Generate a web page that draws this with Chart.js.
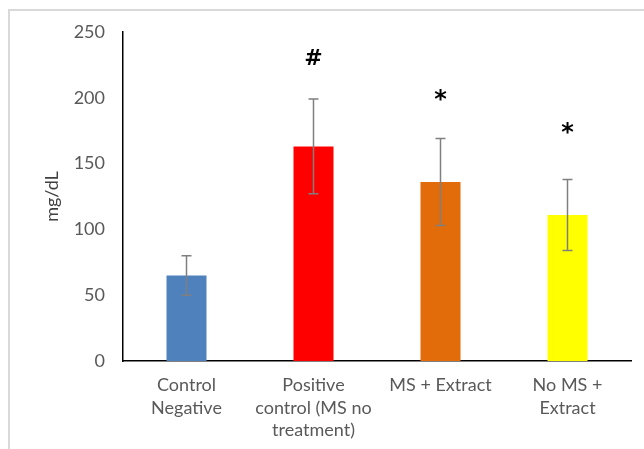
<!DOCTYPE html>
<html>
<head>
<meta charset="utf-8">
<script src="https://cdn.jsdelivr.net/npm/chart.js@4/dist/chart.umd.min.js"></script>
<style>
  html, body { margin: 0; padding: 0; background: #fff; }
  #wrap { position: relative; width: 644px; height: 449px; overflow: hidden; }
  #frame { position: absolute; left: 8px; top: 9px; width: 700px; height: 500px;
           border-left: 2px solid #d9d9d9; border-top: 2px solid #d9d9d9; box-sizing: border-box; }
  canvas { position: absolute; left: 0; top: 0; }
</style>
</head>
<body>
<div id="wrap">
  <div id="frame"></div>
  <canvas id="c" width="644" height="449"></canvas>
</div>
<script>
const categories = [
  ["Control", "Negative"],
  ["Positive", "control (MS no", "treatment)"],
  "MS + Extract",
  ["No MS +", "Extract"]
];
const values = [65, 163, 136, 111];
const errors = [15, 36, 33, 27];
const barColors = ["#4f81bd", "#ff0000", "#e36c0a", "#ffff00"];
const sigMarks = ["", "#", "*", "*"];
const sigLevels = [null, 229, 201, 176];
const yTicks = [0, 50, 100, 150, 200, 250];

const FONT = "Lato, 'Open Sans', sans-serif";

const errorBarPlugin = {
  id: 'errorBars',
  afterDatasetsDraw(chart) {
    const ctx = chart.ctx;
    const meta = chart.getDatasetMeta(0);
    const y = chart.scales.y;
    ctx.save();
    ctx.strokeStyle = '#7f7f7f';
    ctx.lineWidth = 1.5;
    meta.data.forEach((bar, i) => {
      const x = bar.x;
      const yHi = y.getPixelForValue(values[i] + errors[i]);
      const yLo = y.getPixelForValue(values[i] - errors[i]);
      const cap = 5;
      ctx.beginPath();
      ctx.moveTo(x, yHi); ctx.lineTo(x, yLo);
      ctx.moveTo(x - cap, yHi); ctx.lineTo(x + cap, yHi);
      ctx.moveTo(x - cap, yLo); ctx.lineTo(x + cap, yLo);
      ctx.stroke();
      if (sigMarks[i] && sigLevels[i] != null) {
        ctx.fillStyle = '#000';
        ctx.textAlign = 'center';
        ctx.textBaseline = 'middle';
        if (sigMarks[i] === '*') {
          ctx.font = "bold 24px 'DejaVu Sans', sans-serif";
          ctx.fillText(sigMarks[i], x, y.getPixelForValue(sigLevels[i]) + 4);
        } else {
          ctx.font = "bold 22px 'DejaVu Sans', sans-serif";
          ctx.fillText(sigMarks[i], x, y.getPixelForValue(sigLevels[i]));
        }
      }
    });
    ctx.restore();
  }
};

new Chart(document.getElementById('c'), {
  type: 'bar',
  data: {
    labels: categories,
    datasets: [{
      data: values,
      backgroundColor: barColors,
      borderWidth: 0,
      categoryPercentage: 1.0,
      barPercentage: 0.315
    }]
  },
  options: {
    responsive: false,
    animation: false,
    devicePixelRatio: 1,
    layout: { padding: { top: 32, right: 13, left: 0, bottom: 0 } },
    plugins: { legend: { display: false }, tooltip: { enabled: false } },
    scales: {
      x: {
        grid: { display: false, drawTicks: false },
        border: { display: true, color: '#000', width: 1.5 },
        ticks: { color: '#595959', font: { family: FONT, size: 18, lineHeight: 1.25 }, padding: 13, maxRotation: 0, autoSkip: false },
        afterFit(scale) { scale.height = 88; }
      },
      y: {
        min: 0, max: 250,
        grid: { display: false, drawTicks: false },
        border: { display: true, color: '#000', width: 1.5 },
        afterBuildTicks(scale) { scale.ticks = yTicks.map(v => ({ value: v })); },
        ticks: { color: '#595959', font: { family: FONT, size: 18 }, padding: 18 },
        title: { display: true, text: 'mg/dL', color: '#404040', font: { family: FONT, size: 18 }, padding: { top: 41, bottom: 0 } },
        afterFit(scale) { scale.width = 123; }
      }
    }
  },
  plugins: [errorBarPlugin]
});
</script>
</body>
</html>
